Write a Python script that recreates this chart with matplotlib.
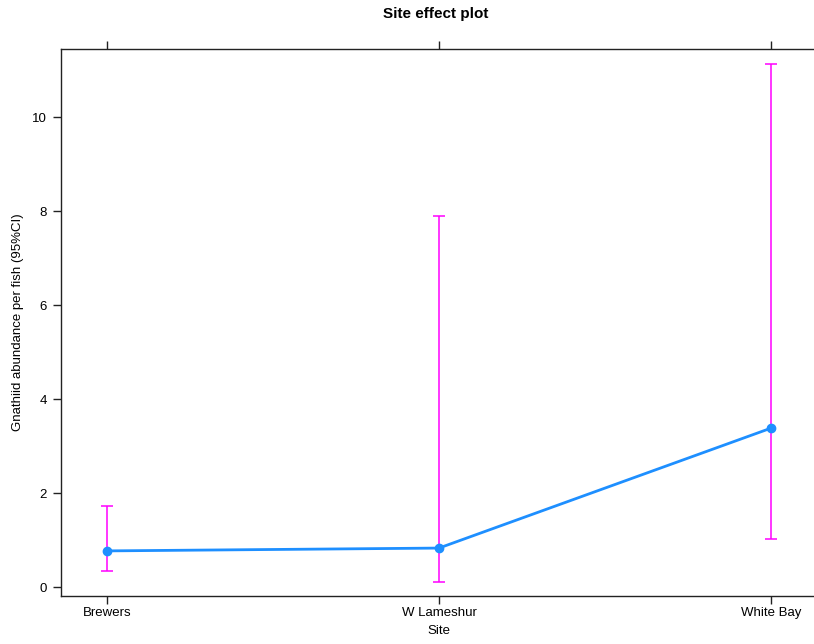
import matplotlib
matplotlib.use("Agg")
import matplotlib.pyplot as plt

plt.rcParams['font.family'] = ['Liberation Sans', 'DejaVu Sans']

sites = ['Brewers', 'W Lameshur', 'White Bay']
fit = [0.77, 0.83, 3.38]
lower = [0.35, 0.10, 1.03]
upper = [1.73, 7.90, 11.13]
yticks = [0, 2, 4, 6, 8, 10]

fig = plt.figure(figsize=(8.14, 6.44), dpi=100)
ax = fig.add_axes([0.0749, 0.0745, 0.9287, 0.8494])

x = list(range(1, len(sites) + 1))
yerr = [[f - l for f, l in zip(fit, lower)], [u - f for f, u in zip(fit, upper)]]
ax.errorbar(x, fit, yerr=yerr, fmt='none', ecolor='#FF00FF', elinewidth=1.1,
            capsize=4.5, capthick=1.1, zorder=2)
ax.plot(x, fit, '-o', color='#1E8FFF', lw=2, ms=6, zorder=3)

ax.set_xlim(0.861, 3.139)
ax.set_ylim(-0.19, 11.447)
ax.set_xticks(x)
ax.set_xticklabels(sites)
ax.set_yticks(yticks)
ax.tick_params(axis='both', direction='out', length=6, width=1, labelsize=9.5,
               color='#222222')
ax.tick_params(axis='x', top=True, pad=2)
ax.tick_params(axis='y', pad=4)
for s in ax.spines.values():
    s.set_color('#222222')
    s.set_linewidth(1)

ax.set_xlabel('Site', fontsize=9.5, labelpad=4)
ax.set_ylabel('Gnathiid abundance per fish (95%CI)', fontsize=9.5, labelpad=6)
fig.text(0.535, 0.978, 'Site effect plot', ha='center', va='center',
         fontsize=11, fontweight='bold')

fig.savefig('out.png', dpi=100)
